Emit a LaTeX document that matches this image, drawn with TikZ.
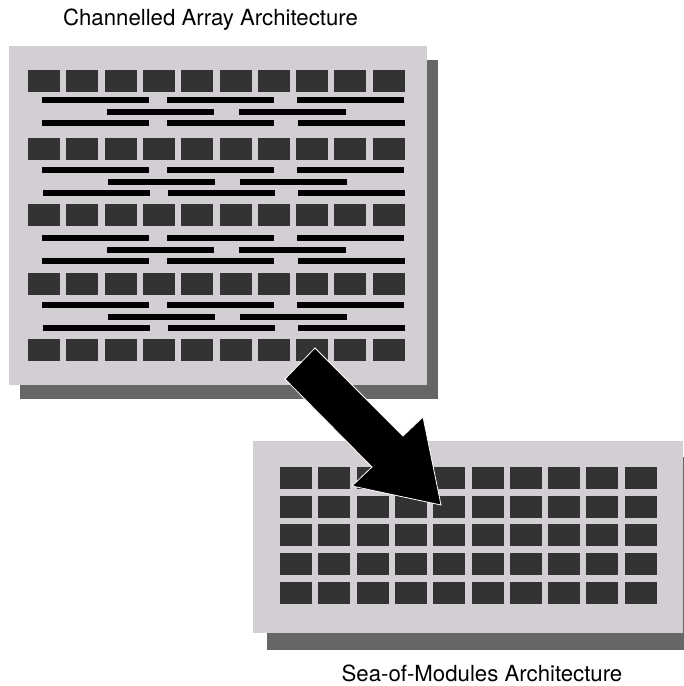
\documentclass[tikz,border=0pt]{standalone}
\usepackage{fontspec}
\setmainfont{TeX Gyre Heros}
\definecolor{panelc}{RGB}{211,206,211}
\definecolor{shadowc}{RGB}{102,102,102}
\definecolor{blockc}{RGB}{51,51,51}
\tikzset{
  panel/.style={fill=panelc},
  shadowbox/.style={fill=shadowc},
  module/.style={fill=blockc},
  wire/.style={fill=black},
  bigarrow/.style={fill=black, draw=white, line width=0.8pt, line join=miter},
  caption/.style={font=\fontsize{22.2}{26}\selectfont, anchor=base, inner sep=0pt}
}
\begin{document}
\begin{tikzpicture}[x=1pt,y=-1pt]
\useasboundingbox (0,0) rectangle (684,686);
% top panel
\fill[shadowbox] (20,60) rectangle (438,399);
\fill[panel] (9,46) rectangle (427,385);
\foreach \r in {70,138,204,273,339}
  \foreach \c in {0,...,9}
    \fill[module] ({28+38.3*\c},\r) rectangle ++(32,22);
\foreach \y/\s in {97/0,167/1,235/0,302/1} {
  \fill[wire] (42,\y) rectangle ++(107,6);
  \fill[wire] (167,\y) rectangle ++(107,6);
  \fill[wire] (297,\y) rectangle ++(107,6);
  \fill[wire] ({107+\s},{\y+12}) rectangle ++(107,6);
  \fill[wire] ({239+\s},{\y+12}) rectangle ++(107,6);
  \fill[wire] ({42+\s},{\y+23}) rectangle ++(107,6);
  \fill[wire] ({167+\s},{\y+23}) rectangle ++(107,6);
  \fill[wire] (298,{\y+23}) rectangle ++(107,6);
}
% bottom panel
\fill[shadowbox] (267,457) rectangle (684,650);
\fill[panel] (253,441) rectangle (683,633);
\foreach \r in {467,495.5,524,552.5,582}
  \foreach \c in {0,...,9}
    \fill[module] ({280+38.3*\c},\r) rectangle ++(32,22);
% arrow
\filldraw[bigarrow] (315,348) -- (403,436) -- (423,417) -- (441,505) -- (352,486) -- (372,467) -- (285,379) -- cycle;
% captions
\node[caption] (toptitle) at (210.5,25) {Channelled Array Architecture};
\node[caption] (bottitle) at (482,681.5) {Sea-of-Modules Architecture};
\end{tikzpicture}
\end{document}
